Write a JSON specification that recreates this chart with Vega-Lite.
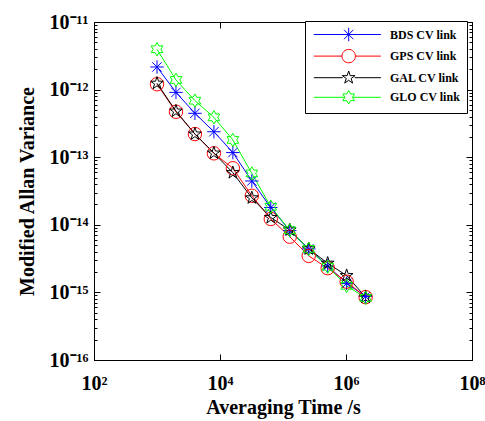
{
  "$schema": "https://vega.github.io/schema/vega-lite/v6.json",
  "width": 378,
  "height": 338,
  "autosize": "none",
  "padding": {"left": 94, "top": 22, "right": 13, "bottom": 61},
  "data": {
    "values": [
      {"t": 1000, "v": 2.16e-12, "s": "BDS CV link"},
      {"t": 2000, "v": 9.1e-13, "s": "BDS CV link"},
      {"t": 4000, "v": 4.46e-13, "s": "BDS CV link"},
      {"t": 8000, "v": 2.38e-13, "s": "BDS CV link"},
      {"t": 16000, "v": 1.17e-13, "s": "BDS CV link"},
      {"t": 32000, "v": 4.45e-14, "s": "BDS CV link"},
      {"t": 64000, "v": 1.8e-14, "s": "BDS CV link"},
      {"t": 128000, "v": 8.2e-15, "s": "BDS CV link"},
      {"t": 256000, "v": 4.4e-15, "s": "BDS CV link"},
      {"t": 512000, "v": 2.46e-15, "s": "BDS CV link"},
      {"t": 1024000, "v": 1.36e-15, "s": "BDS CV link"},
      {"t": 2048000, "v": 8.7e-16, "s": "BDS CV link"},
      {"t": 1000, "v": 1.2e-12, "s": "GPS CV link"},
      {"t": 2000, "v": 4.7e-13, "s": "GPS CV link"},
      {"t": 4000, "v": 2.2e-13, "s": "GPS CV link"},
      {"t": 8000, "v": 1.14e-13, "s": "GPS CV link"},
      {"t": 16000, "v": 6.86e-14, "s": "GPS CV link"},
      {"t": 32000, "v": 2.69e-14, "s": "GPS CV link"},
      {"t": 64000, "v": 1.22e-14, "s": "GPS CV link"},
      {"t": 128000, "v": 6.67e-15, "s": "GPS CV link"},
      {"t": 256000, "v": 3.47e-15, "s": "GPS CV link"},
      {"t": 512000, "v": 2.28e-15, "s": "GPS CV link"},
      {"t": 1024000, "v": 1.44e-15, "s": "GPS CV link"},
      {"t": 2048000, "v": 8.5e-16, "s": "GPS CV link"},
      {"t": 1000, "v": 1.24e-12, "s": "GAL CV link"},
      {"t": 2000, "v": 4.8e-13, "s": "GAL CV link"},
      {"t": 4000, "v": 2.2e-13, "s": "GAL CV link"},
      {"t": 8000, "v": 1.15e-13, "s": "GAL CV link"},
      {"t": 16000, "v": 5.9e-14, "s": "GAL CV link"},
      {"t": 32000, "v": 2.5e-14, "s": "GAL CV link"},
      {"t": 64000, "v": 1.28e-14, "s": "GAL CV link"},
      {"t": 128000, "v": 8.4e-15, "s": "GAL CV link"},
      {"t": 256000, "v": 4.4e-15, "s": "GAL CV link"},
      {"t": 512000, "v": 2.7e-15, "s": "GAL CV link"},
      {"t": 1024000, "v": 1.77e-15, "s": "GAL CV link"},
      {"t": 2048000, "v": 8.5e-16, "s": "GAL CV link"},
      {"t": 1000, "v": 3.95e-12, "s": "GLO CV link"},
      {"t": 2000, "v": 1.39e-12, "s": "GLO CV link"},
      {"t": 4000, "v": 6.86e-13, "s": "GLO CV link"},
      {"t": 8000, "v": 3.89e-13, "s": "GLO CV link"},
      {"t": 16000, "v": 1.8e-13, "s": "GLO CV link"},
      {"t": 32000, "v": 5.75e-14, "s": "GLO CV link"},
      {"t": 64000, "v": 1.85e-14, "s": "GLO CV link"},
      {"t": 128000, "v": 8.3e-15, "s": "GLO CV link"},
      {"t": 256000, "v": 4.4e-15, "s": "GLO CV link"},
      {"t": 512000, "v": 2.4e-15, "s": "GLO CV link"},
      {"t": 1024000, "v": 1.25e-15, "s": "GLO CV link"},
      {"t": 2048000, "v": 8.3e-16, "s": "GLO CV link"}
    ]
  },
  "config": {
    "view": {"stroke": "black", "strokeWidth": 1},
    "font": "Liberation Serif",
    "axis": {
      "grid": false,
      "domainColor": "black",
      "domainWidth": 1,
      "tickColor": "black",
      "tickWidth": 1,
      "labelColor": "black",
      "titleColor": "black",
      "labelFont": "Liberation Serif",
      "titleFont": "Liberation Serif",
      "labelFontSize": 20,
      "titleFontSize": 20,
      "labelFontWeight": "bold",
      "titleFontWeight": "bold",
      "labelFlush": false,
      "labelOverlap": false
    },
    "legend": {
      "orient": "none",
      "legendX": 211,
      "legendY": -1,
      "strokeColor": "black",
      "fillColor": "white",
      "padding": 6,
      "rowPadding": 2.6,
      "symbolSize": 180,
      "symbolStrokeWidth": 1,
      "labelFont": "Liberation Serif",
      "labelFontSize": 12,
      "labelFontWeight": "bold",
      "labelColor": "black",
      "labelOffset": 64,
      "labelLimit": 0
    }
  },
  "layer": [
    {
      "mark": {"type": "line", "strokeWidth": 1},
      "encoding": {
        "x": {
          "field": "t", "type": "quantitative",
          "scale": {"type": "log", "domain": [100, 100000000], "nice": false},
          "axis": {
            "orient": "bottom",
            "title": "Averaging Time /s",
            "values": [100, 10000, 1000000, 100000000],
            "labelExpr": "datum.value == 100 ? '10²' : datum.value == 10000 ? '10⁴' : datum.value == 1000000 ? '10⁶' : datum.value == 100000000 ? '10⁸' : ''",
            "tickSize": -6,
            "labelPadding": 19,
            "titleX": 189,
            "titleY": 53,
            "titleAlign": "center",
            "titleBaseline": "alphabetic"
          }
        },
        "y": {
          "field": "v", "type": "quantitative",
          "scale": {"type": "log", "domain": [1e-16, 1e-11], "nice": false},
          "axis": {
            "orient": "left",
            "title": "Modified Allan Variance",
            "values": [1e-16, 2e-16, 3e-16, 4e-16, 5e-16, 6e-16, 7e-16, 8e-16, 9e-16, 1e-15, 2e-15, 3e-15, 4e-15, 5e-15, 6e-15, 7e-15, 8e-15, 9e-15, 1e-14, 2e-14, 3e-14, 4e-14, 5e-14, 6e-14, 7e-14, 8e-14, 9e-14, 1e-13, 2e-13, 3e-13, 4e-13, 5e-13, 6e-13, 7e-13, 8e-13, 9e-13, 1e-12, 2e-12, 3e-12, 4e-12, 5e-12, 6e-12, 7e-12, 8e-12, 9e-12, 1e-11],
            "labelExpr": "datum.value == 1e-11 ? '10⁻¹¹' : datum.value == 1e-12 ? '10⁻¹²' : datum.value == 1e-13 ? '10⁻¹³' : datum.value == 1e-14 ? '10⁻¹⁴' : datum.value == 1e-15 ? '10⁻¹⁵' : datum.value == 1e-16 ? '10⁻¹⁶' : ''",
            "tickSize": {"condition": {"test": "indexof([1e-11, 1e-12, 1e-13, 1e-14, 1e-15, 1e-16], datum.value) >= 0", "value": -6}, "value": -3},
            "labelPadding": 12,
            "labelBaseline": "middle",
            "titleAngle": -90,
            "titleX": -67,
            "titleY": 169,
            "titleAlign": "center",
            "titleBaseline": "middle"
          }
        },
        "color": {
          "field": "s", "type": "nominal",
          "scale": {"domain": ["BDS CV link", "GPS CV link", "GAL CV link", "GLO CV link"], "range": ["#0000ff", "#ff0000", "#000000", "#00ff00"]},
          "legend": {
            "title": null,
            "encoding": {"symbols": {"shape": {"value": {"expr": "datum.value == 'BDS CV link' ? 'M-0.7,0L9.3,0M3.5,0L5.5,0M4.5,-1L4.5,1M3.8,-0.7L5.2,0.7M3.8,0.7L5.2,-0.7' : datum.value == 'GPS CV link' ? 'M-0.7,0L3.5,0M5.5,0L9.3,0M5.5,0A1,1,0,1,1,3.5,0A1,1,0,1,1,5.5,0' : datum.value == 'GAL CV link' ? 'M-0.7,0L3.6,0M5.4,0L9.3,0M4.5,-1L4.7245,-0.309L5.451,-0.309L4.863,0.118L5.088,0.809L4.5,0.382L3.912,0.809L4.137,0.118L3.549,-0.309L4.2755,-0.309Z' : 'M-0.7,0L3.923,0M5.077,0L9.3,0M4.5,-1L4.7887,-0.5L5.366,-0.5L5.077,0L5.366,0.5L4.7887,0.5L4.5,1L4.2113,0.5L3.634,0.5L3.923,0L3.634,-0.5L4.2113,-0.5Z'"}}}}
          }
        }
      }
    },
    {
      "mark": {"type": "point", "filled": false, "strokeWidth": 1, "size": 180, "opacity": 1},
      "encoding": {
        "x": {
          "field": "t", "type": "quantitative",
          "scale": {"type": "log", "domain": [100, 100000000], "nice": false},
          "axis": {
            "orient": "top",
            "title": null,
            "labels": false,
            "values": [100, 10000, 1000000, 100000000],
            "tickSize": -6
          }
        },
        "y": {
          "field": "v", "type": "quantitative",
          "scale": {"type": "log", "domain": [1e-16, 1e-11], "nice": false},
          "axis": {
            "orient": "right",
            "title": null,
            "labels": false,
            "values": [1e-16, 2e-16, 3e-16, 4e-16, 5e-16, 6e-16, 7e-16, 8e-16, 9e-16, 1e-15, 2e-15, 3e-15, 4e-15, 5e-15, 6e-15, 7e-15, 8e-15, 9e-15, 1e-14, 2e-14, 3e-14, 4e-14, 5e-14, 6e-14, 7e-14, 8e-14, 9e-14, 1e-13, 2e-13, 3e-13, 4e-13, 5e-13, 6e-13, 7e-13, 8e-13, 9e-13, 1e-12, 2e-12, 3e-12, 4e-12, 5e-12, 6e-12, 7e-12, 8e-12, 9e-12, 1e-11],
            "tickSize": {"condition": {"test": "indexof([1e-11, 1e-12, 1e-13, 1e-14, 1e-15, 1e-16], datum.value) >= 0", "value": -6}, "value": -3}
          }
        },
        "color": {
          "field": "s", "type": "nominal",
          "scale": {"domain": ["BDS CV link", "GPS CV link", "GAL CV link", "GLO CV link"], "range": ["#0000ff", "#ff0000", "#000000", "#00ff00"]},
          "legend": {
            "title": null,
            "encoding": {"symbols": {"shape": {"value": {"expr": "datum.value == 'BDS CV link' ? 'M-0.7,0L9.3,0M3.5,0L5.5,0M4.5,-1L4.5,1M3.8,-0.7L5.2,0.7M3.8,0.7L5.2,-0.7' : datum.value == 'GPS CV link' ? 'M-0.7,0L3.5,0M5.5,0L9.3,0M5.5,0A1,1,0,1,1,3.5,0A1,1,0,1,1,5.5,0' : datum.value == 'GAL CV link' ? 'M-0.7,0L3.6,0M5.4,0L9.3,0M4.5,-1L4.7245,-0.309L5.451,-0.309L4.863,0.118L5.088,0.809L4.5,0.382L3.912,0.809L4.137,0.118L3.549,-0.309L4.2755,-0.309Z' : 'M-0.7,0L3.923,0M5.077,0L9.3,0M4.5,-1L4.7887,-0.5L5.366,-0.5L5.077,0L5.366,0.5L4.7887,0.5L4.5,1L4.2113,0.5L3.634,0.5L3.923,0L3.634,-0.5L4.2113,-0.5Z'"}}}}
          }
        },
        "shape": {
          "field": "s", "type": "nominal",
          "scale": {"domain": ["GLO CV link", "GAL CV link", "GPS CV link", "BDS CV link"], "range": ["M0,-1L0.2887,-0.5L0.866,-0.5L0.577,0L0.866,0.5L0.2887,0.5L0,1L-0.2887,0.5L-0.866,0.5L-0.577,0L-0.866,-0.5L-0.2887,-0.5Z", "M0,-1L0.2245,-0.309L0.951,-0.309L0.363,0.118L0.588,0.809L0,0.382L-0.588,0.809L-0.363,0.118L-0.951,-0.309L-0.2245,-0.309Z", "circle", "M-1,0L1,0M0,-1L0,1M-0.7,-0.7L0.7,0.7M-0.7,0.7L0.7,-0.7"]},
          "legend": null
        }
      }
    }
  ],
  "resolve": {"axis": {"x": "independent", "y": "independent"}}
}
